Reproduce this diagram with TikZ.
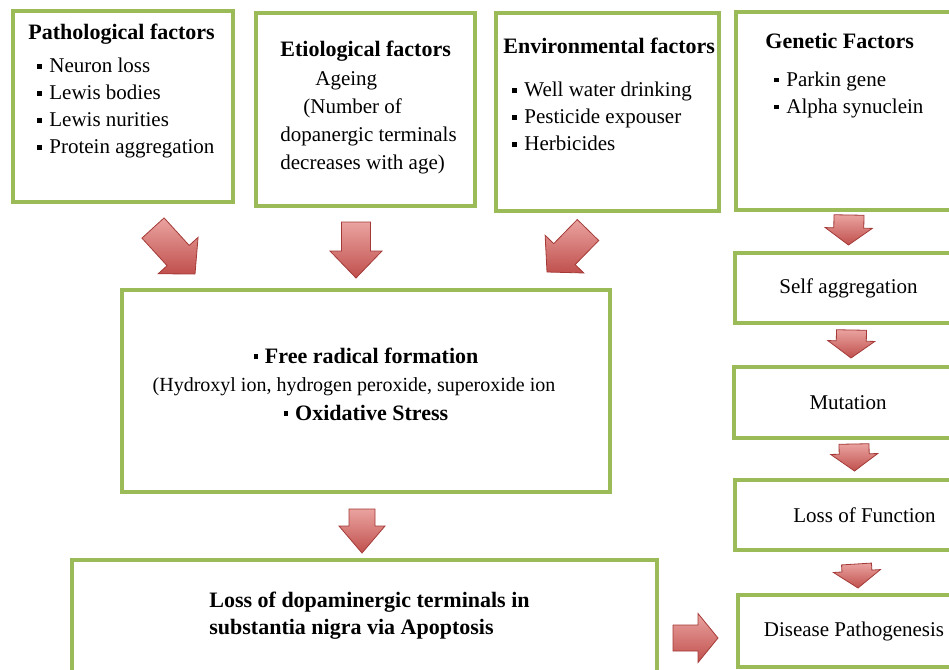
\documentclass[tikz,border=0pt]{standalone}
\usepackage{fontspec}
\setmainfont{Liberation Serif}
\usetikzlibrary{shapes,arrows,calc,fit,positioning}
\definecolor{boxgreen}{HTML}{9BBB59}
\definecolor{arrowred}{HTML}{C0504D}
\definecolor{arrowlight}{HTML}{EAA3A0}
\definecolor{arrowedge}{HTML}{A33A37}
\tikzstyle{box} = [rectangle, draw=boxgreen, line width=2pt, fill=white,
    inner sep=0pt]
\tikzstyle{txt} = [inner sep=0pt, align=left,
    font=\fontsize{10.5}{13.5}\selectfont]
\tikzstyle{fat} = [draw=arrowedge, line width=0.4pt, top color=arrowlight,
    bottom color=arrowred, line join=miter]
\newcommand{\hd}[1]{{\fontsize{11}{13.5}\selectfont\bfseries #1}}
\newcommand{\bul}{\hspace*{4.5pt}\raisebox{0.45ex}{\rule{2.2pt}{2.2pt}}\hspace{3.8pt}}
% fat block arrow: start, tip, shaft half width, head half width, head length
\newcommand{\fatarrow}[5]{%
    \coordinate (fa-s) at (#1);
    \coordinate (fa-t) at (#2);
    \coordinate (fa-h) at ($(fa-t)!#5!(fa-s)$);
    \path [fat] ($(fa-s)!#3!90:(fa-t)$) -- ($(fa-h)!#3!90:(fa-t)$)
        -- ($(fa-h)!#4!90:(fa-t)$) -- (fa-t) -- ($(fa-h)!#4!-90:(fa-t)$)
        -- ($(fa-h)!#3!-90:(fa-t)$) -- ($(fa-s)!#3!-90:(fa-t)$) -- cycle;}
\begin{document}
\begin{tikzpicture}[x=0.5pt, y=-0.5pt]
    \useasboundingbox (0,0) rectangle (949,670);
    \clip (0,0) rectangle (949,670);

    % Place boxes
    \node [box, fit={(13,11) (233,202)}] (patho) {};
    \node [box, fit={(256,13) (475,206)}] (etio) {};
    \node [box, fit={(496,13) (719,211)}] (enviro) {};
    \node [box, fit={(736,12) (962,210)}] (genetic) {};
    \node [box, fit={(122,290) (610,492)}] (radical) {};
    \node [box, fit={(72,560) (657,685)}] (apoptosis) {};
    \node [box, fit={(735,253) (962,323)}] (selfagg) {};
    \node [box, fit={(734,367) (962,438)}] (mutation) {};
    \node [box, fit={(735,480) (962,550)}] (lossfn) {};
    \node [box, fit={(738,595) (962,667)}] (disease) {};

    % Place texts
    \node [txt, anchor=north west] (pathotxt) at ([shift={(17,15)}]patho.north west)
        {\hd{Pathological factors}\\[3pt]
         \bul Neuron loss\\ \bul Lewis bodies\\ \bul Lewis nurities\\
         \bul Protein aggregation};
    \node [txt, anchor=north west] (etiotxt) at ([shift={(26,30)}]etio.north west)
        {\hd{Etiological factors}\\[1pt]
         \hspace*{17.5pt}Ageing\\[0.5pt]
         \hspace*{11.5pt}(Number of\\[0.5pt]
         dopanergic terminals\\[0.5pt]
         decreases with age)};
    \node [txt, anchor=north west] (envirotxt) at ([shift={(9,27)}]enviro.north west)
        {\hd{Environmental factors}\\[8pt]
         \bul Well water drinking\\ \bul Pesticide expouser\\
         \bul Herbicides};
    \node [txt, anchor=north west] (genetictxt) at ([shift={(31,23)}]genetic.north west)
        {\hd{Genetic Factors}\\[5.5pt]
         \bul Parkin gene\\ \bul Alpha synuclein};
    \node [txt, align=center] (radicaltxt) at ([shift={(0,-7)}]radical.center)
        {\hd{\raisebox{0.45ex}{\rule{2.2pt}{2.2pt}}\hspace{3.5pt}Free radical formation}\\[0.5pt]
         \hspace*{-12pt}{\fontsize{10}{13.5}\selectfont(Hydroxyl ion, hydrogen peroxide, superoxide ion}\\[1pt]
         \hd{\raisebox{0.45ex}{\rule{2.2pt}{2.2pt}}\hspace{3.5pt}Oxidative Stress}};
    \node [txt, anchor=north west] (apoptosistxt) at ([shift={(139,34)}]apoptosis.north west)
        {\hd{Loss of dopaminergic terminals in}\\
         \hd{substantia nigra via Apoptosis}};
    \node [txt] (selfaggtxt) at (selfagg) {Self aggregation};
    \node [txt] (mutationtxt) at (mutation) {Mutation};
    \node [txt] (lossfntxt) at ([xshift=8]lossfn.center) {Loss of Function};
    \node [txt] (diseasetxt) at ([xshift=2]disease.center) {Disease Pathogenesis};

    % Draw arrows
    \fatarrow{[shift={(30,24)}]patho.south}{[shift={(75,-14)}]radical.north west}{7.5pt}{13.5pt}{12.5pt}
    \fatarrow{[shift={(-9.5,14)}]etio.south}{[shift={(-10,-10)}]radical.north}{7.25pt}{13pt}{13.5pt}
    \fatarrow{[shift={(-19.5,17)}]enviro.south}{[shift={(-65,-16)}]radical.north east}{7.5pt}{13.5pt}{12.5pt}
    \fatarrow{[shift={(-4,15)}]radical.south}{[shift={(-2.5,-5)}]apoptosis.north}{6.5pt}{11.5pt}{13.5pt}
    \fatarrow{[shift={(-63,7)}]disease.west}{[shift={(-18,7)}]disease.west}{6.5pt}{12.25pt}{10pt}
    \fatarrow{[shift={(0,3)}]genetic.south}{[shift={(0,-6)}]selfagg.north}{7.5pt}{11.75pt}{8.5pt}
    \fatarrow{[shift={(3,5)}]selfagg.south}{[shift={(3,-7)}]mutation.north}{7.5pt}{11.75pt}{8.5pt}
    \fatarrow{[shift={(6,4)}]mutation.south}{[shift={(6,-7)}]lossfn.north}{7.5pt}{11.75pt}{8.5pt}
    \fatarrow{[shift={(8,12)}]lossfn.south}{[shift={(8,-5)}]disease.north}{7.5pt}{11.75pt}{8.5pt}
\end{tikzpicture}
\end{document}
